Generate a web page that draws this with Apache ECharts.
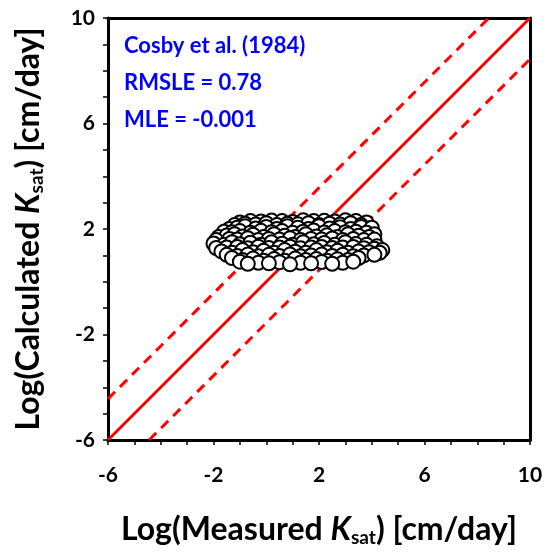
<!DOCTYPE html>
<html><head><meta charset="utf-8">
<script src="https://cdn.jsdelivr.net/npm/echarts@6/dist/echarts.min.js"></script>
<style>html,body{margin:0;padding:0;background:#fff}#c{width:557px;height:555px}</style>
</head><body><div id="c"></div>
<script>
// Axis range and tick labels
const axisMin = -6, axisMax = 10;
const tickLabels = [-6, -2, 2, 6, 10];
// 1:1 line and +/- band offset (log units)
const bandOffset = 1.56;
// Annotation text
const annotation = ['Cosby et al. (1984)', 'RMSLE = 0.78', 'MLE = -0.001'];
// Measured (x) vs Calculated (y) Log Ksat
const measured = [
  -1.0,-0.6,-0.2,0.2,0.6,1.0,1.4,1.8,2.2,2.6,3.0,3.4,3.8,
  -1.2,-0.8,-0.4,0.0,0.4,0.8,1.2,1.6,2.0,2.4,2.8,3.2,3.6,
  -1.4,-1.1,-0.8,-0.4,0.0,0.4,0.8,1.2,1.6,2.0,2.4,2.8,3.2,3.6,4.0,
  -1.6,-1.3,-1.0,-0.6,-0.2,0.2,0.6,1.0,1.4,1.8,2.2,2.6,3.0,3.4,3.8,4.1,
  -1.8,-1.5,-1.2,-0.9,-0.5,-0.1,0.3,0.7,1.1,1.5,1.9,2.3,2.7,3.1,3.5,3.9,
  -1.9,-1.4,-1.1,-0.7,-0.3,0.1,0.5,0.9,1.3,1.7,2.1,2.5,2.9,3.3,3.7,4.1,
  -2.0,-1.6,-1.3,-1.0,-0.6,-0.2,0.2,0.6,1.0,1.4,1.8,2.2,2.6,3.0,3.4,3.8,4.2,
  -1.9,-1.5,-1.1,-0.7,-0.3,0.1,0.5,0.9,1.3,1.7,2.1,2.5,2.9,3.3,3.7,4.1,4.4,
  -1.7,-1.3,-0.9,-0.5,-0.1,0.3,0.7,1.1,1.5,1.9,2.3,2.7,3.1,3.5,3.9,4.3,
  -1.5,-1.1,-0.7,-0.3,0.1,0.5,0.9,1.3,1.7,2.1,2.5,2.9,3.3,3.7,4.1,
  -1.3,-0.9,-0.5,-0.1,0.3,0.7,1.1,1.5,1.9,2.3,2.7,3.1,3.5,
  -1.0,-0.3,0.5,1.3,2.1,2.9,3.3,
  -0.7,0.1,0.9,1.7,2.5
];
const calculated = [
  2.25,2.30,2.28,2.32,2.30,2.27,2.33,2.30,2.31,2.28,2.33,2.30,2.25,
  2.15,2.20,2.17,2.22,2.15,2.20,2.18,2.22,2.15,2.20,2.17,2.22,2.15,
  2.00,2.05,2.10,2.02,2.08,2.00,2.10,2.05,2.00,2.10,2.02,2.07,2.00,2.08,2.05,
  1.90,1.88,1.92,1.86,1.93,1.88,1.92,1.86,1.90,1.94,1.87,1.92,1.88,1.90,1.86,1.80,
  1.70,1.75,1.80,1.72,1.78,1.70,1.80,1.74,1.70,1.80,1.72,1.76,1.70,1.80,1.74,1.70,
  1.58,1.62,1.60,1.65,1.58,1.62,1.60,1.65,1.58,1.62,1.60,1.64,1.58,1.62,1.58,1.60,
  1.45,1.40,1.50,1.42,1.48,1.40,1.50,1.44,1.40,1.50,1.42,1.47,1.40,1.50,1.43,1.40,1.35,
  1.28,1.30,1.32,1.27,1.33,1.28,1.30,1.33,1.27,1.30,1.32,1.28,1.30,1.32,1.27,1.25,1.20,
  1.15,1.10,1.20,1.12,1.18,1.10,1.20,1.14,1.10,1.20,1.12,1.18,1.10,1.15,1.12,1.10,
  1.02,0.98,1.03,0.97,1.02,0.98,1.03,0.97,1.00,1.03,0.98,1.02,0.97,1.00,1.02,
  0.90,0.82,0.88,0.80,0.86,0.80,0.88,0.82,0.86,0.80,0.85,0.82,0.90,
  0.76,0.72,0.74,0.72,0.75,0.72,0.76,
  0.68,0.70,0.66,0.70,0.68
];

const pts = measured.map((x, i) => [x, calculated[i]]);
const FONT = 'Lato';
const chart = echarts.init(document.getElementById('c'));
const axisCommon = {
  type: 'value', min: axisMin, max: axisMax, interval: 1,
  axisLine: {show: true, onZero: false, lineStyle: {color: '#000', width: 3}},
  axisTick: {show: true, inside: false, length: 5, lineStyle: {color: '#000', width: 1.5}},
  splitLine: {show: false},
  axisLabel: {
    fontFamily: FONT, fontWeight: 'bold', fontSize: 21, color: '#000',
    formatter: v => tickLabels.indexOf(v) >= 0 ? String(v) : ''
  },
  nameLocation: 'middle'
};
const TS = 32;
const rich = {
  a: {fontFamily: FONT, fontWeight: 'bold', fontSize: TS, color: '#000'},
  k: {fontFamily: FONT, fontWeight: 'bold', fontStyle: 'italic', fontSize: TS, color: '#000'},
  s: {fontFamily: FONT, fontWeight: 'bold', fontSize: 19, color: '#000', padding: [16, 0, 0, 0]}
};
const option = {
  animation: false,
  backgroundColor: '#fff',
  grid: {left: 108, right: 27, top: 18, bottom: 115, containLabel: false, outerBoundsMode: 'none'},
  xAxis: [
    Object.assign({}, axisCommon, {
      position: 'bottom',
      axisLabel: Object.assign({}, axisCommon.axisLabel, {margin: 25}),
      name: '{a|Log(Measured }{k|K}{s|sat}{a|) [cm/day]}',
      nameGap: 72,
      nameTextStyle: {rich: rich}
    }),
    {type: 'value', position: 'top', min: axisMin, max: axisMax,
     axisLine: {show: true, onZero: false, lineStyle: {color: '#000', width: 3}},
     axisTick: {show: false}, axisLabel: {show: false}, splitLine: {show: false}}
  ],
  yAxis: [
    Object.assign({}, axisCommon, {
      position: 'left',
      axisLabel: Object.assign({}, axisCommon.axisLabel, {margin: 13}),
      name: '{a|Log(Calculated }{k|K}{s|sat}{a|) [cm/day]}',
      nameGap: 62,
      nameTextStyle: {rich: rich}
    }),
    {type: 'value', position: 'right', min: axisMin, max: axisMax,
     axisLine: {show: true, onZero: false, lineStyle: {color: '#000', width: 3}},
     axisTick: {show: false}, axisLabel: {show: false}, splitLine: {show: false}}
  ],
  series: [
    {type: 'line', data: [[axisMin, axisMin], [axisMax, axisMax]], symbol: 'none',
     lineStyle: {color: '#ff0000', width: 3}, z: 1},
    {type: 'line', data: [[axisMin, axisMin + bandOffset], [axisMax - bandOffset, axisMax]], symbol: 'none',
     lineStyle: {color: '#ff0000', width: 3, type: [10, 7]}, z: 1},
    {type: 'line', data: [[axisMin + bandOffset, axisMin], [axisMax, axisMax - bandOffset]], symbol: 'none',
     lineStyle: {color: '#ff0000', width: 3, type: [10, 7]}, z: 1},
    {type: 'scatter', data: pts, symbol: 'circle', symbolSize: 14,
     itemStyle: {color: '#fff', borderColor: '#000', borderWidth: 2, opacity: 1}, z: 3}
  ],
  graphic: annotation.map((t, i) => ({
    type: 'text', left: 124, top: 35 + i * 37, z: 10,
    style: {text: t, fontFamily: FONT, fontWeight: 'bold', fontSize: 22, fill: '#0000ff'}
  }))
};
chart.setOption(option);
</script></body></html>
